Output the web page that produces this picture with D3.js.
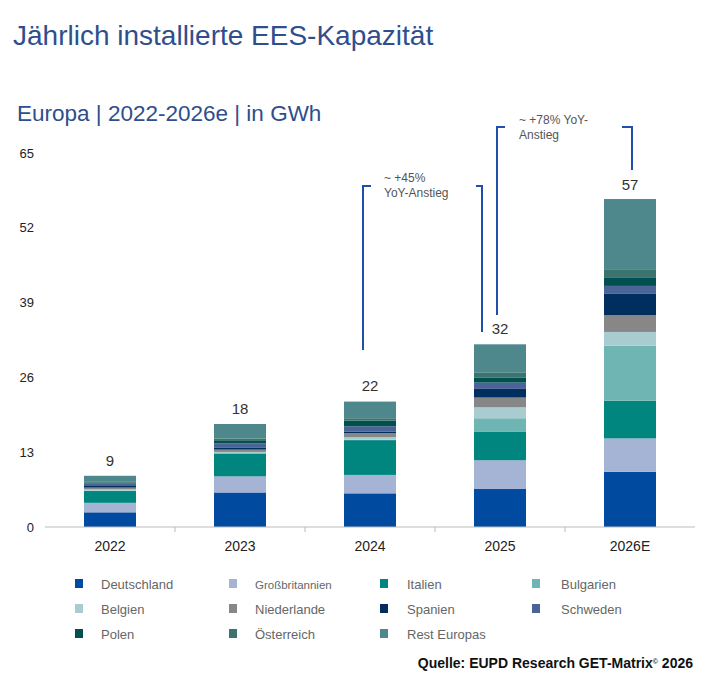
<!DOCTYPE html><html><head><meta charset="utf-8"><script src="https://cdn.jsdelivr.net/npm/d3@7"></script>
<style>body{margin:0;background:#fff}svg{font-family:Arial,"Liberation Sans",sans-serif}</style></head><body><svg id="c" width="721" height="688"></svg>
<script>
const years=["2022","2023","2024","2025","2026E"];
const totals=[9,18,22,32,57];
const series=["Deutschland","Großbritannien","Italien","Bulgarien","Belgien","Niederlande","Spanien","Schweden","Polen","Österreich","Rest Europas"];
const colors=["#004A9F","#A5B4D4","#00867F","#6FB5B3","#A8CCCF","#878787","#002F5F","#4A6497","#005050","#3D736E","#4F888C"];
const Deutschland=[2.55,6.0,5.85,6.6,9.6];
const Grossbritannien=[1.65,2.8,3.2,5.0,5.8];
const Italien=[2.05,3.95,6.05,5.0,6.55];
const Bulgarien=[0.1,0.1,0.1,2.3,9.55];
const Belgien=[0.2,0.2,0.4,1.9,2.4];
const Niederlande=[0.3,0.4,0.7,1.7,2.9];
const Spanien=[0.4,0.3,0.3,1.5,3.8];
const Schweden=[0.3,0.8,0.9,1.1,1.3];
const Polen=[0.2,0.4,1.0,0.9,1.5];
const Oesterreich=[0.2,0.4,0.4,0.8,1.4];
const RestEuropas=[0.95,2.55,2.9,4.95,12.2];
const yTicks=[0,13,26,39,52,65];
const vals=[Deutschland,Grossbritannien,Italien,Bulgarien,Belgien,Niederlande,Spanien,Schweden,Polen,Oesterreich,RestEuropas];
const rows=years.map((y,i)=>{const o={year:y};series.forEach((s,k)=>o[s]=vals[k][i]);return o;});
const svg=d3.select("#c");
const x=d3.scaleBand().domain(years).range([45,695]).paddingInner(0.6).paddingOuter(0.3);
const y=d3.scaleLinear().domain([0,65]).range([527,153]);
const stack=d3.stack().keys(series)(rows);
svg.append("text").attr("x",13).attr("y",45).attr("fill","#2E4E8E").attr("font-size",28).text("Jährlich installierte EES-Kapazität");
svg.append("text").attr("x",17).attr("y",121).attr("fill","#2E4E8E").attr("font-size",22.5).text("Europa | 2022-2026e | in GWh");
const g=svg.append("g");
stack.forEach((s,k)=>g.selectAll(null).data(s).enter().append("rect")
 .attr("x",d=>x(d.data.year)).attr("width",x.bandwidth())
 .attr("y",d=>y(d[1])).attr("height",d=>y(d[0])-y(d[1])).attr("fill",colors[k]));
const ya=svg.append("g").attr("transform","translate(38,0)").call(d3.axisLeft(y).tickValues(yTicks).tickSize(0).tickPadding(0));
ya.select(".domain").remove();ya.selectAll("text").attr("font-size",13).attr("fill","#222").attr("text-anchor","end").attr("x",-4);
const xa=svg.append("g").attr("transform","translate(0,527)").call(d3.axisBottom(x).tickSize(0).tickPadding(14));
xa.select(".domain").attr("stroke","#bbb").attr("d","M45,0H695");
xa.selectAll("text").attr("font-size",14).attr("fill","#222");
[175,305,435,565].forEach(v=>svg.append("line").attr("x1",v).attr("x2",v).attr("y1",527).attr("y2",532).attr("stroke","#bbb"));
svg.selectAll(".tot").data(years).enter().append("text").attr("x",d=>x(d)+x.bandwidth()/2).attr("y",(d,i)=>y(totals[i])-9)
 .attr("text-anchor","middle").attr("font-size",15).attr("fill","#333").text((d,i)=>totals[i]);
const bl="#1F4FA8";
function br(pts){svg.append("path").attr("d",d3.line()(pts)).attr("fill","none").attr("stroke",bl).attr("stroke-width",2);}
br([[371,186],[363,186],[363,350]]);br([[476,186],[482,186],[482,332]]);
br([[505,127],[497,127],[497,315]]);br([[622,127],[632,127],[632,170]]);
[["~ +45%",384,182],["YoY-Anstieg",384,197],["~ +78% YoY-",519,124],["Anstieg",519,139]].forEach(t=>svg.append("text").attr("x",t[1]).attr("y",t[2]).attr("font-size",12).attr("fill","#555").text(t[0]));
const lx=[75,229,380,532],tx=[101,255,407,561];
series.forEach((s,k)=>{const c=k%4,r=Math.floor(k/4),yy=584+r*25;
 svg.append("rect").attr("x",lx[c]).attr("y",yy-5).attr("width",8).attr("height",9).attr("fill",colors[k]);
 svg.append("text").attr("x",tx[c]).attr("y",yy+5).attr("font-size",s==="Großbritannien"?11.5:13).attr("fill","#666").text(s);});
const q=svg.append("text").attr("x",693).attr("y",668).attr("text-anchor","end").attr("font-size",14).attr("font-weight","bold").attr("fill","#111");
q.append("tspan").text("Quelle: EUPD Research GET-Matrix");q.append("tspan").attr("font-size",7).attr("dy",-4).text("©");q.append("tspan").attr("dy",4).text(" 2026");
</script></body></html>
